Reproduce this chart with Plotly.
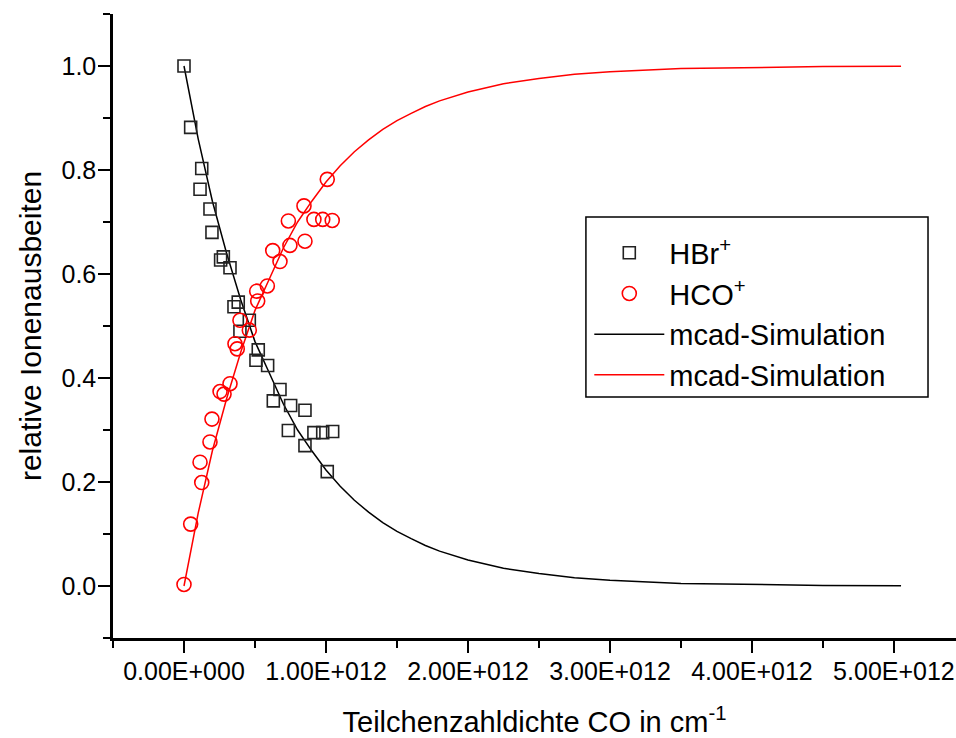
import plotly.graph_objects as go

# ---- data (x in cm^-1) ----
hbr_x = [0.0, 0.047e12, 0.125e12, 0.113e12, 0.183e12, 0.197e12, 0.258e12, 0.277e12, 0.324e12,
         0.382e12, 0.352e12, 0.460e12, 0.394e12, 0.523e12, 0.507e12, 0.589e12, 0.676e12,
         0.629e12, 0.751e12, 0.852e12, 0.735e12, 0.915e12, 0.977e12, 1.047e12, 0.852e12, 1.009e12]
hbr_y = [1.0, 0.882, 0.803, 0.763, 0.725, 0.680, 0.627, 0.633, 0.612,
         0.546, 0.537, 0.511, 0.490, 0.454, 0.434, 0.424, 0.378,
         0.356, 0.347, 0.338, 0.299, 0.295, 0.295, 0.297, 0.270, 0.220]

hco_x = [0.0, 0.047e12, 0.125e12, 0.113e12, 0.183e12, 0.197e12, 0.254e12, 0.282e12, 0.324e12,
         0.375e12, 0.359e12, 0.460e12, 0.394e12, 0.519e12, 0.512e12, 0.587e12, 0.676e12,
         0.625e12, 0.746e12, 0.852e12, 0.735e12, 0.915e12, 0.977e12, 1.044e12, 0.845e12, 1.009e12]
hco_y = [0.003, 0.119, 0.199, 0.238, 0.277, 0.321, 0.374, 0.369, 0.389,
         0.456, 0.466, 0.492, 0.511, 0.548, 0.567, 0.577, 0.624,
         0.645, 0.655, 0.663, 0.702, 0.705, 0.705, 0.703, 0.731, 0.782]

sim_x = [0.0, 0.1e12, 0.2e12, 0.3e12, 0.4e12, 0.5e12, 0.6e12, 0.7e12, 0.8e12, 0.9e12, 1.0e12,
         1.1e12, 1.2e12, 1.3e12, 1.4e12, 1.5e12, 1.6e12, 1.7e12, 1.8e12, 1.9e12, 2.0e12,
         2.25e12, 2.5e12, 2.75e12, 3.0e12, 3.5e12, 4.0e12, 4.5e12, 5.05e12]
sim_hbr_y = [1.0, 0.86, 0.74, 0.64, 0.55, 0.47, 0.41, 0.35, 0.30, 0.26, 0.223,
             0.192, 0.165, 0.142, 0.122, 0.105, 0.091, 0.078, 0.067, 0.058, 0.050,
             0.034, 0.024, 0.016, 0.011, 0.005, 0.0025, 0.0012, 0.0005]
sim_hco_y = [0.0, 0.14, 0.26, 0.36, 0.45, 0.53, 0.59, 0.65, 0.70, 0.74, 0.777,
             0.808, 0.835, 0.858, 0.878, 0.895, 0.909, 0.922, 0.933, 0.942, 0.950,
             0.966, 0.976, 0.984, 0.989, 0.995, 0.9975, 0.9988, 0.9995]

x_tickvals = [0, 1e12, 2e12, 3e12, 4e12, 5e12]
x_ticktext = ["0.00E+000", "1.00E+012", "2.00E+012", "3.00E+012", "4.00E+012", "5.00E+012"]
x_minor = [-0.5e12, 0.5e12, 1.5e12, 2.5e12, 3.5e12, 4.5e12, 5.5e12]
y_tickvals = [0.0, 0.2, 0.4, 0.6, 0.8, 1.0]
y_ticktext = ["0.0", "0.2", "0.4", "0.6", "0.8", "1.0"]
y_minor = [-0.1, 0.1, 0.3, 0.5, 0.7, 0.9, 1.1]

FONT = "Liberation Sans, Arial, sans-serif"

fig = go.Figure()
fig.add_trace(go.Scatter(x=sim_x, y=sim_hbr_y, mode="lines", line=dict(color="black", width=1.5),
                         name="mcad-Simulation", legendrank=3))
fig.add_trace(go.Scatter(x=sim_x, y=sim_hco_y, mode="lines", line=dict(color="red", width=1.5),
                         name="mcad-Simulation", legendrank=4))
fig.add_trace(go.Scatter(x=hbr_x, y=hbr_y, mode="markers", name="HBr<sup>+</sup>", legendrank=1,
                         marker=dict(symbol="square-open", size=12, color="#222222", line=dict(width=1.6))))
fig.add_trace(go.Scatter(x=hco_x, y=hco_y, mode="markers", name="HCO<sup>+</sup>", legendrank=2,
                         marker=dict(symbol="circle-open", size=14, color="red", line=dict(width=1.6))))

# legend frame (drawn as a shape so it can be as wide as in the original)
fig.add_shape(type="rect", xref="paper", yref="paper", x0=0.561, x1=0.9668, y0=0.3862, y1=0.6747,
              line=dict(color="black", width=1.5), fillcolor="rgba(0,0,0,0)", layer="above")

fig.update_layout(
    width=956, height=738,
    margin=dict(l=113, r=0, t=14, b=100, autoexpand=False),
    paper_bgcolor="white", plot_bgcolor="white",
    font=dict(family=FONT, color="black"),
    showlegend=True,
    legend=dict(x=0.565, y=0.658, xanchor="left", yanchor="top",
                borderwidth=0, bgcolor="rgba(255,255,255,0)",
                font=dict(size=29, family=FONT), itemwidth=70,
                tracegroupgap=0),
    xaxis=dict(range=[-0.5e12, 5.437e12], showgrid=False, zeroline=False, automargin=False,
               showline=True, linecolor="black", linewidth=2.5,
               ticks="outside", ticklen=12, tickwidth=2, tickcolor="black",
               tickmode="array", tickvals=x_tickvals, ticktext=x_ticktext,
               tickfont=dict(size=25, family=FONT), ticklabelstandoff=-3,
               minor=dict(tickmode="array", tickvals=x_minor, ticks="outside", ticklen=7, tickwidth=2, tickcolor="black"),
               title=dict(text="Teilchenzahldichte CO in cm<sup>-1</sup>", font=dict(size=29, family=FONT), standoff=29)),
    yaxis=dict(range=[-0.1, 1.1], showgrid=False, zeroline=False, automargin=False,
               showline=True, linecolor="black", linewidth=2.5,
               ticks="outside", ticklen=12, tickwidth=2, tickcolor="black",
               tickmode="array", tickvals=y_tickvals, ticktext=y_ticktext,
               tickfont=dict(size=25, family=FONT), ticklabelstandoff=-3,
               minor=dict(tickmode="array", tickvals=y_minor, ticks="outside", ticklen=7, tickwidth=2, tickcolor="black"),
               title=dict(text="relative Ionenausbeiten", font=dict(size=30, family=FONT), standoff=11)),
)

fig.write_html("out.html", config={"displayModeBar": False},
               post_script="document.body.style.margin='0';document.body.style.overflow='hidden';")
